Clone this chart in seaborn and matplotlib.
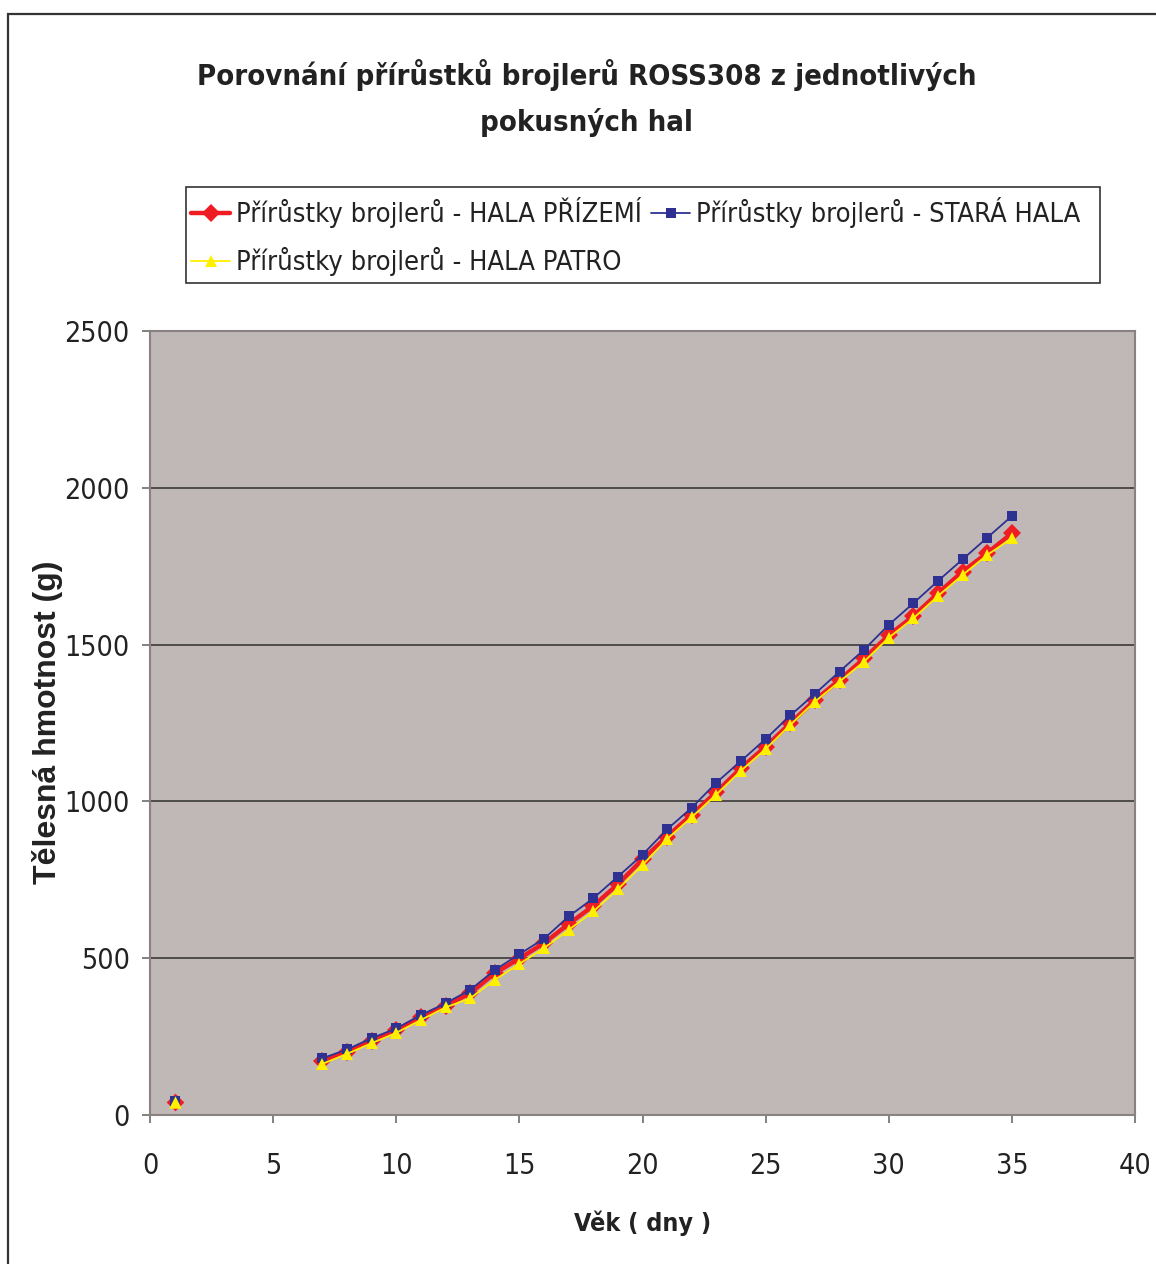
import numpy as np
import pandas as pd
import matplotlib
matplotlib.use("Agg")
import matplotlib.pyplot as plt
import seaborn as sns
from matplotlib.lines import Line2D
from matplotlib.patches import Rectangle
from matplotlib import font_manager
from matplotlib.font_manager import FontProperties

# ---- data ----
days = [1, 7, 8, 9, 10, 11, 12, 13, 14, 15, 16, 17, 18, 19, 20, 21, 22, 23, 24, 25,
        26, 27, 28, 29, 30, 31, 32, 33, 34, 35]
hala_prizemi = [40, 173, 202, 236, 271, 311, 348, 388, 452, 499, 548, 609, 667, 736, 815,
                888, 958, 1030, 1106, 1175, 1249, 1323, 1387, 1456, 1530, 1591, 1664,
                1733, 1792, 1855]
stara_hala = [45, 181, 209, 245, 276, 319, 356, 399, 462, 513, 562, 633, 691, 760, 830,
              911, 980, 1060, 1129, 1199, 1274, 1343, 1414, 1484, 1563, 1632, 1703,
              1772, 1841, 1910]
hala_patro = [42, 163, 195, 229, 262, 303, 343, 372, 431, 482, 532, 590, 649, 720, 797,
              880, 950, 1022, 1098, 1167, 1244, 1318, 1382, 1446, 1522, 1584, 1655,
              1722, 1786, 1839]
series_names = ["Přírůstky brojlerů - HALA PŘÍZEMÍ",
                "Přírůstky brojlerů - STARÁ HALA",
                "Přírůstky brojlerů - HALA PATRO"]
x_ticks = [0, 5, 10, 15, 20, 25, 30, 35, 40]
y_ticks = [0, 500, 1000, 1500, 2000, 2500]

title = "Porovnání přírůstků brojlerů ROSS308 z jednotlivých\npokusných hal"
x_label = "Věk ( dny )"
y_label = "Tělesná hmotnost (g)"

# ---- styling ----
sns.set_theme(style="white")
plt.rcParams["font.family"] = ["Liberation Sans", "DejaVu Sans"]

fonts = font_manager.fontManager.ttflist
names = {f.name for f in fonts}
if "Liberation Sans Narrow" in names:
    def narrow(size, weight="normal"):
        return FontProperties(family="Liberation Sans Narrow", size=size, weight=weight)
    scale = 1.1
elif any(f.name == "DejaVu Sans" and f.stretch == "condensed" for f in fonts):
    def narrow(size, weight="normal"):
        return FontProperties(family="DejaVu Sans", stretch="condensed", size=size,
                              weight=weight)
    scale = 1.0
else:
    def narrow(size, weight="normal"):
        return FontProperties(family="Liberation Sans", size=size, weight=weight)
    scale = 0.97

colors = ["#F01C24", "#2E3192", "#FFF000"]
markers = ["D", "s", "^"]
msizes = [9, 7.5, 9]
lwidths = [3.2, 1.3, 1.3]

fig = plt.figure(figsize=(11.56, 12.64), dpi=100)
ax = fig.add_axes([150/1156, 1-1115/1264, (1135-150)/1156, (1115-331)/1264])
ax.set_facecolor("#C0B8B6")

values = [hala_prizemi, stara_hala, hala_patro]
for name, vals, c, m, ms, lw in zip(series_names, values, colors, markers, msizes, lwidths):
    df = pd.DataFrame({"day": days, "value": vals})
    cont = df[df["day"] >= 7]
    sns.lineplot(data=cont, x="day", y="value", ax=ax, color=c, linewidth=lw,
                 marker=m, markersize=ms, markeredgecolor=c, markeredgewidth=0,
                 zorder=3)
    first = df[df["day"] < 7]
    sns.scatterplot(data=first, x="day", y="value", ax=ax, color=c, marker=m,
                    s=ms**2, edgecolor=c, linewidth=0, zorder=3)

ax.set_xlim(0, 40)
ax.set_ylim(0, 2500)
ax.set_xticks(x_ticks)
ax.set_yticks(y_ticks)
ax.set_xticklabels([str(t) for t in x_ticks])
ax.set_yticklabels([str(t) for t in y_ticks])
ax.yaxis.grid(True, color="#3A3A3A", linewidth=1.2, zorder=1)
ax.xaxis.grid(False)
ax.set_axisbelow(True)
for side, sp in ax.spines.items():
    sp.set_visible(True)
    sp.set_color("#8A8282")
    sp.set_linewidth(1.5)
ax.tick_params(axis="both", which="major", direction="out", length=6, width=1.3,
               color="#777777", labelcolor="#222222")
ax.tick_params(axis="x", pad=21)
ax.tick_params(axis="y", pad=8.5)
ax.tick_params(left=True, bottom=True)
tick_fp = narrow(20.5 * scale)
for lab in ax.get_xticklabels() + ax.get_yticklabels():
    lab.set_fontproperties(tick_fp)

ax.set_xlabel(x_label, fontproperties=narrow(18 * scale, "bold"), color="#222222")
ax.xaxis.set_label_coords(0.5, -(1211 - 1115) / 784)
ax.set_ylabel(y_label, fontsize=23, fontweight="bold", color="#222222",
              family=["Liberation Sans", "DejaVu Sans"])
ax.yaxis.set_label_coords((48 - 150) / 985, (1115 - 722) / 784)
ax.yaxis.label.set_va("center")

fig.text(587/1156, 1-98/1264, title, ha="center", va="center",
         fontproperties=narrow(21 * scale, "bold"), color="#222222", linespacing=1.7)

# legend (frame drawn separately as a fixed box)
handles = []
for c, m, ms, lw in zip(colors, markers, msizes, lwidths):
    handles.append(Line2D([0], [0], color=c, marker=m, markersize=ms, linewidth=lw,
                          markeredgewidth=0))
order = [0, 2, 1]
leg = fig.legend([handles[i] for i in order], [series_names[i] for i in order],
                 loc="upper left", bbox_to_anchor=(191/1156, 1-197/1264),
                 ncol=2, prop=narrow(19.5 * scale), frameon=False,
                 handlelength=1.45, handletextpad=0.2, borderpad=0.0,
                 labelspacing=0.7, columnspacing=0.35, borderaxespad=0)
for t in leg.get_texts():
    t.set_color("#222222")
fig.patches.append(Rectangle((186/1156, 1-283/1264), (1100-186)/1156, (283-187)/1264,
                             transform=fig.transFigure, fill=True, facecolor="white",
                             edgecolor="#333333", linewidth=1.2, zorder=0))

# outer chart border
fig.patches.append(Rectangle((8/1156, -0.1), 1.2, 1-14/1264 + 0.1,
                             transform=fig.transFigure, fill=False,
                             edgecolor="#333333", linewidth=1.6))

fig.savefig("out.png", dpi=100)
